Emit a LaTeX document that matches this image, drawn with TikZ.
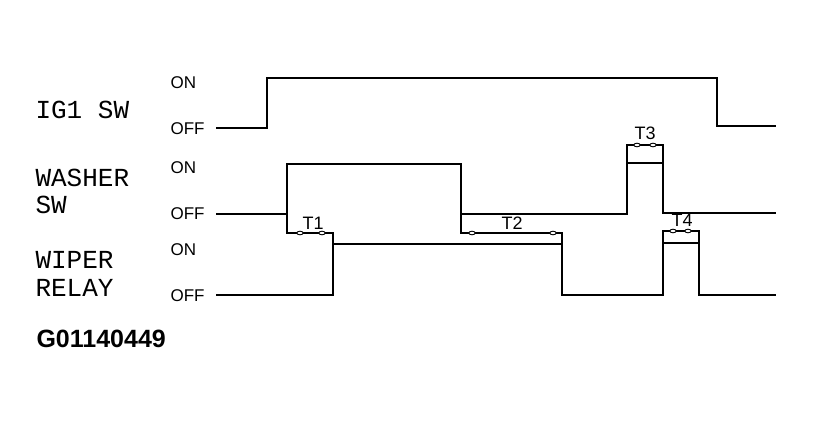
\documentclass[tikz,border=0pt]{standalone}
\usepackage{fontspec}
\setmainfont{Liberation Sans}
\newfontfamily\plotfont{Liberation Mono}
\usetikzlibrary{calc}

\begin{document}
\begin{tikzpicture}[x=1pt,y=-1pt,
    wave/.style={line width=1.6pt},
    brack/.style={line width=1.1pt},
    tmark/.style={line width=0.9pt,fill=white},
    sig/.style={anchor=west,font=\plotfont\fontsize{26}{26}\selectfont},
    lvl/.style={anchor=west,font=\fontsize{17}{17}\selectfont},
    tlab/.style={font=\fontsize{18}{18}\selectfont}]
       \useasboundingbox (0,0) rectangle (813,424);

       %signal names
       \node[sig] (ig1) at (32,110) {IG1 SW};
       \node[sig] (wash1) at (32,178) {WASHER};
       \node[sig] (wash2) at (32,205) {SW};
       \node[sig] (wip1) at (32,260) {WIPER};
       \node[sig] (wip2) at (32,288) {RELAY};

       %ON / OFF
       \node[lvl] (ig1on) at (167,83) {ON};
       \node[lvl] (ig1off) at (167,129) {OFF};
       \node[lvl] (washon) at (167,168) {ON};
       \node[lvl] (washoff) at (167,214) {OFF};
       \node[lvl] (wipon) at (167,250) {ON};
       \node[lvl] (wipoff) at (167,296) {OFF};

       %IG1 SW
       \draw[wave] (216,128) -- (267,128) -- (267,78) -- (717,78) -- (717,126) -- (776,126);

       %WASHER SW
       \draw[wave] (216,214) -- (287,214) -- (287,164) -- (461,164) -- (461,214)
             -- (627,214) -- (627,163) -- (663,163) -- (663,213) -- (776,213);

       %WIPER RELAY
       \draw[wave] (216,295) -- (333,295) -- (333,244) -- (562,244) -- (562,295)
             -- (663,295) -- (663,243) -- (699,243) -- (699,295) -- (776,295);

       %T1 - T4
       \draw[brack] (287,214) -- (287,233) -- (333,233) -- (333,244);
       \draw[brack] (461,214) -- (461,233) -- (562,233) -- (562,244);
       \draw[brack] (627,163) -- (627,145) -- (663,145) -- (663,163);
       \draw[brack] (663,243) -- (663,231) -- (699,231) -- (699,243);

       \draw[tmark] (300,233) ellipse (3.2 and 1.8);
       \draw[tmark] (322,233) ellipse (3.2 and 1.8);
       \draw[tmark] (472,233) ellipse (3.2 and 1.8);
       \draw[tmark] (553,233) ellipse (3.2 and 1.8);
       \draw[tmark] (637,145) ellipse (3.2 and 1.8);
       \draw[tmark] (653,145) ellipse (3.2 and 1.8);
       \draw[tmark] (673,231) ellipse (3.2 and 1.8);
       \draw[tmark] (688,231) ellipse (3.2 and 1.8);

       \node[tlab] (t1) at (313,223) {T1};
       \node[tlab] (t2) at (512,223) {T2};
       \node[tlab] (t3) at (645,133) {T3};
       \node[tlab] (t4) at (682,220) {T4};

       \node[anchor=west,font=\bfseries\fontsize{25}{25}\selectfont] (code) at (33,339) {G01140449};

\end{tikzpicture}
\end{document}
